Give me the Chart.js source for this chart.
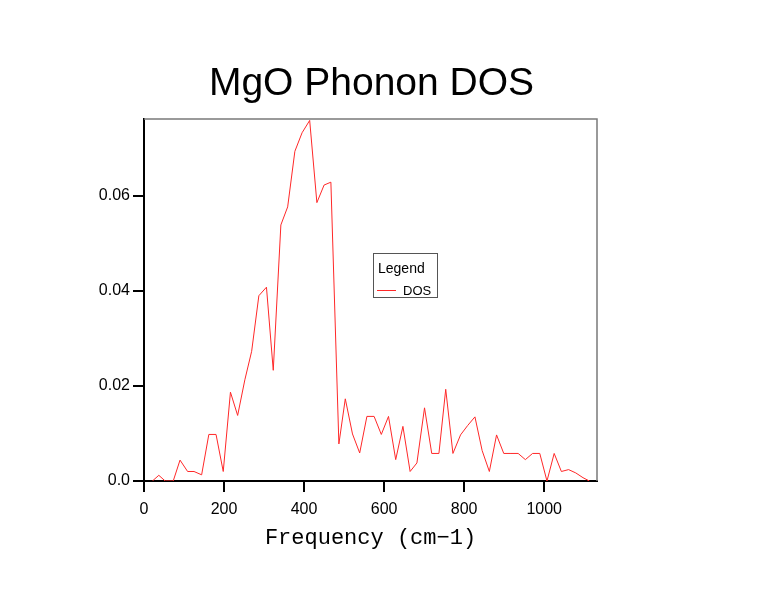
<!DOCTYPE html>
<html>
<head>
<meta charset="utf-8">
<title>MgO Phonon DOS</title>
<script src="https://cdn.jsdelivr.net/npm/chart.js"></script>
<style>
  html, body { margin: 0; padding: 0; background: #fff; }
  #wrap { width: 776px; height: 600px; position: relative; }
</style>
</head>
<body>
<div id="wrap"><canvas id="dosChart" width="776" height="600"></canvas></div>
<script>
// frequencies (cm-1) and DOS values
const freq = [21, 37, 53, 73, 90, 109, 125, 144, 162, 180, 198, 216, 234, 252, 269, 287,
  306, 323, 342, 359, 377, 395, 414, 432, 450, 467, 487, 503, 521, 539, 557, 575, 593,
  611, 629, 647, 665, 682, 701, 719, 737, 754, 772, 791, 809, 827, 845, 863, 881, 899,
  917, 935, 953, 971, 989, 1007, 1025, 1043, 1061, 1079, 1097, 1113];
const dos = [0, 0.0012, 0, 0, 0.0044, 0.002, 0.002, 0.0013, 0.0098, 0.0098, 0.002, 0.0187,
  0.0138, 0.0213, 0.0273, 0.039, 0.0408, 0.0233, 0.0539, 0.0577, 0.0694, 0.0733, 0.0759,
  0.0586, 0.0623, 0.0629, 0.0078, 0.0173, 0.0099, 0.0059, 0.0136, 0.0136, 0.0098, 0.0136,
  0.0045, 0.0115, 0.002, 0.0038, 0.0154, 0.0058, 0.0058, 0.0193, 0.0058, 0.0097, 0.0117,
  0.0135, 0.0064, 0.002, 0.0097, 0.0058, 0.0058, 0.0058, 0.0045, 0.0058, 0.0058, 0,
  0.0058, 0.002, 0.0024, 0.0017, 0.0007, 0];
const xTickLabels = ['0', '200', '400', '600', '800', '1000'];
const yTickLabels = ['0.0', '0.02', '0.04', '0.06'];

const chartTitle = 'MgO Phonon DOS';
const xAxisTitle = 'Frequency (cm\u22121)';
const seriesName = 'DOS';

// draws the title, axis title, the grey top/right frame and the boxed legend
const decorations = {
  id: 'decorations',
  afterDraw(chart) {
    const ctx = chart.ctx;
    const a = chart.chartArea;
    const cx = (a.left + a.right) / 2;
    ctx.save();

    ctx.strokeStyle = '#7a7a7a';
    ctx.lineWidth = 1.5;
    ctx.beginPath();
    ctx.moveTo(a.left, a.top);
    ctx.lineTo(a.right, a.top);
    ctx.lineTo(a.right, a.bottom);
    ctx.stroke();

    ctx.fillStyle = '#000';
    ctx.textAlign = 'center';
    ctx.textBaseline = 'alphabetic';
    ctx.font = '39px "Liberation Sans", Arial, sans-serif';
    ctx.fillText(chartTitle, cx + 1, 95);

    ctx.font = '22px "Liberation Mono", "Courier New", monospace';
    ctx.fillText(xAxisTitle, cx, 544);

    // legend box
    const lx = 373, ly = 253, lw = 64, lh = 44;
    ctx.fillStyle = '#fff';
    ctx.fillRect(lx, ly, lw, lh);
    ctx.strokeStyle = '#555';
    ctx.lineWidth = 1;
    ctx.strokeRect(lx + 0.5, ly + 0.5, lw, lh);
    ctx.fillStyle = '#000';
    ctx.textAlign = 'left';
    ctx.font = '14px "Liberation Sans", Arial, sans-serif';
    ctx.fillText('Legend', 378, 273);
    ctx.strokeStyle = chart.data.datasets[0].borderColor;
    ctx.beginPath();
    ctx.moveTo(377, 290.5);
    ctx.lineTo(396, 290.5);
    ctx.stroke();
    ctx.font = '13px "Liberation Sans", Arial, sans-serif';
    ctx.fillText(seriesName, 403, 295);
    ctx.restore();
  }
};

new Chart(document.getElementById('dosChart'), {
  type: 'line',
  data: {
    datasets: [{
      label: seriesName,
      data: freq.map((f, i) => ({ x: f, y: dos[i] })),
      borderColor: 'rgb(255, 40, 40)',
      borderWidth: 1,
      pointRadius: 0,
      tension: 0,
      fill: false
    }]
  },
  options: {
    responsive: false,
    animation: false,
    layout: { padding: { top: 119, right: 179, left: 0, bottom: 0 } },
    plugins: {
      legend: { display: false },
      tooltip: { enabled: false }
    },
    scales: {
      x: {
        type: 'linear',
        min: 0,
        max: 1132,
        afterFit: function(scale) { scale.height = 119; },
        afterBuildTicks: function(scale) {
          scale.ticks = xTickLabels.map(t => ({ value: parseFloat(t) }));
        },
        border: { display: true, color: '#000', width: 2 },
        grid: { drawOnChartArea: false, drawTicks: true, tickLength: 11, color: '#000', lineWidth: 2 },
        ticks: {
          color: '#000',
          padding: 8,
          maxRotation: 0,
          autoSkip: false,
          font: { family: '"Liberation Sans", Arial, sans-serif', size: 16 },
          callback: function(value, index) { return xTickLabels[index]; }
        }
      },
      y: {
        min: 0,
        max: 0.0762,
        afterFit: function(scale) { scale.width = 144; },
        afterBuildTicks: function(scale) {
          scale.ticks = yTickLabels.map(t => ({ value: parseFloat(t) }));
        },
        border: { display: true, color: '#000', width: 2 },
        grid: { drawOnChartArea: false, drawTicks: true, tickLength: 11, color: '#000', lineWidth: 2 },
        ticks: {
          color: '#000',
          padding: 3,
          font: { family: '"Liberation Sans", Arial, sans-serif', size: 16 },
          callback: function(value, index) { return yTickLabels[index]; }
        }
      }
    }
  },
  plugins: [decorations]
});
</script>
</body>
</html>
